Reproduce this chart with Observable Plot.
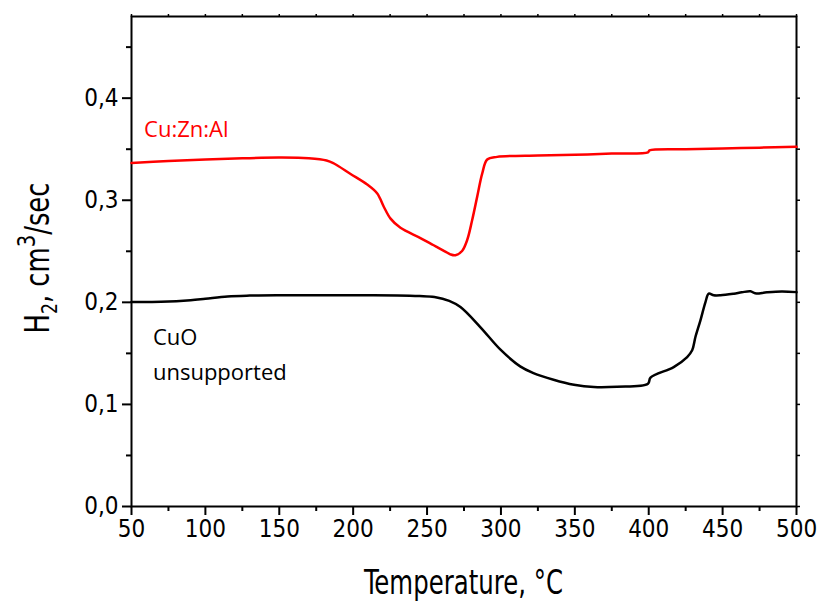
<!DOCTYPE html>
<html>
<head>
<meta charset="utf-8">
<script src="https://cdn.jsdelivr.net/npm/d3@7"></script>
<script src="https://cdn.jsdelivr.net/npm/@observablehq/plot@0.6"></script>
<style>
  html, body { margin: 0; padding: 0; background: #fff; }
  #chart svg { display: block; }
</style>
</head>
<body>
<div id="chart"></div>
<script>
// H2 consumption during temperature-programmed reduction
const cuZnAlTemp = [50, 75, 100, 125, 150, 170, 182, 187, 198, 209.5, 216.3, 220.8, 225.3, 232, 245.5, 254.5, 262, 265.8, 269.2, 273.7, 277.1, 280.5, 283.9, 287.3, 290.7, 297.4, 325, 350, 375, 399.5, 400.5, 425, 450, 475, 500];
const cuZnAlH2   = [0.3366, 0.3385, 0.3400, 0.3412, 0.3418, 0.3412, 0.3390, 0.3360, 0.3260, 0.3154, 0.3066, 0.2934, 0.2820, 0.2730, 0.2630, 0.2559, 0.2500, 0.2470, 0.2461, 0.2503, 0.2608, 0.2804, 0.3033, 0.3260, 0.3399, 0.3425, 0.3438, 0.3445, 0.3458, 0.3470, 0.3488, 0.3500, 0.3508, 0.3515, 0.3523];

const cuoTemp = [50, 70, 90, 100, 115, 130, 150, 200, 230, 245, 255, 265, 272.6, 286, 299.7, 313, 322, 335.6, 349.4, 362.9, 378.6, 399.5, 401.2, 416.9, 426, 429.4, 431.6, 435, 438.4, 440.6, 444, 448.6, 457.6, 463, 468.9, 472, 480, 490, 500];
const cuoH2   = [0.2003, 0.2005, 0.2020, 0.2035, 0.2058, 0.2066, 0.2069, 0.2069, 0.2068, 0.2062, 0.2052, 0.2015, 0.1954, 0.1758, 0.1536, 0.1373, 0.1307, 0.1242, 0.1193, 0.1170, 0.1173, 0.1203, 0.1262, 0.1366, 0.1464, 0.1530, 0.1660, 0.1824, 0.2003, 0.2085, 0.2069, 0.2069, 0.2085, 0.2098, 0.2108, 0.2088, 0.2098, 0.2105, 0.2100];

// Axis ticks
const xMajorTicks = [50, 100, 150, 200, 250, 300, 350, 400, 450, 500];
const xMinorTicks = [75, 125, 175, 225, 275, 325, 375, 425, 475];
const yMajorTicks = [0, 0.1, 0.2, 0.3, 0.4];
const yMinorTicks = [0.05, 0.15, 0.25, 0.35, 0.45];

// Curve annotations
const noteText  = ["Cu:Zn:Al", "CuO", "unsupported"];
const noteTemp  = [58.5, 64.5, 64.5];
const noteH2    = [0.3689, 0.1647, 0.1304];
const noteColor = ["#ff0000", "#000000", "#000000"];

const tickFont = "'Liberation Sans Narrow', 'DejaVu Sans Condensed', sans-serif";
const comma = d => d.toFixed(1).replace(".", ",");
const blank = () => "";

const plot = Plot.plot({
  width: 819,
  height: 602,
  marginLeft: 131,
  marginRight: 23,
  marginTop: 16,
  marginBottom: 96,
  style: { background: "#fff", color: "#000", fontFamily: tickFont, overflow: "visible" },
  x: { domain: [50, 500] },
  y: { domain: [0, 0.48] },
  marks: [
    Plot.axisX({ ticks: xMajorTicks, tickSize: 9, tickPadding: 4, strokeWidth: 2, fontSize: 24, tickFormat: d => d, label: null }),
    Plot.axisX({ ticks: xMinorTicks, tickSize: 5, strokeWidth: 2, tickFormat: blank, label: null }),
    Plot.axisX({ anchor: "top", ticks: xMajorTicks.concat(xMinorTicks), tickSize: 3, strokeWidth: 1.5, tickFormat: blank, label: null }),
    Plot.axisY({ ticks: yMajorTicks, tickSize: 9, tickPadding: 4, strokeWidth: 2, fontSize: 24, tickFormat: comma, label: null }),
    Plot.axisY({ ticks: yMinorTicks, tickSize: 5, strokeWidth: 2, tickFormat: blank, label: null }),
    Plot.axisY({ anchor: "right", ticks: yMajorTicks.concat(yMinorTicks), tickSize: 3, strokeWidth: 1.5, tickFormat: blank, label: null }),
    Plot.frame({ stroke: "#000", strokeWidth: 2 }),
    Plot.line(cuoH2, { x: cuoTemp, y: cuoH2, stroke: "#000", strokeWidth: 2.5, curve: "catmull-rom" }),
    Plot.line(cuZnAlH2, { x: cuZnAlTemp, y: cuZnAlH2, stroke: "#ff0000", strokeWidth: 2.5, curve: "catmull-rom" }),
    Plot.text(noteText, {
      x: noteTemp, y: noteH2, text: d => d, fill: noteColor,
      textAnchor: "start", lineAnchor: "middle",
      fontSize: 22, fontFamily: "'Open Sans', sans-serif"
    })
  ]
});

document.getElementById("chart").appendChild(plot);

// Axis titles with sub/superscripts
const svg = d3.select(plot);
const xs = plot.scale("x"), ys = plot.scale("y");
const cx = (xs.apply(50) + xs.apply(500)) / 2;
const cy = (ys.apply(0) + ys.apply(0.48)) / 2;

svg.append("text")
  .attr("x", cx).attr("y", 594)
  .attr("text-anchor", "middle")
  .attr("font-family", tickFont)
  .attr("font-size", 33)
  .attr("fill", "#000")
  .attr("textLength", 199).attr("lengthAdjust", "spacingAndGlyphs")
  .text("Temperature, \u00B0C");

const yt = svg.append("text")
  .attr("transform", `translate(49,${cy - 3}) rotate(-90)`)
  .attr("text-anchor", "middle")
  .attr("font-family", tickFont)
  .attr("font-size", 33)
  .attr("fill", "#000")
  .attr("textLength", 151).attr("lengthAdjust", "spacingAndGlyphs");
yt.append("tspan").text("H");
yt.append("tspan").attr("font-size", 22).attr("dy", 8).text("2");
yt.append("tspan").attr("dy", -8).text(", cm");
yt.append("tspan").attr("font-size", 25).attr("dy", -14).text("3");
yt.append("tspan").attr("dy", 14).text("/sec");
</script>
</body>
</html>
